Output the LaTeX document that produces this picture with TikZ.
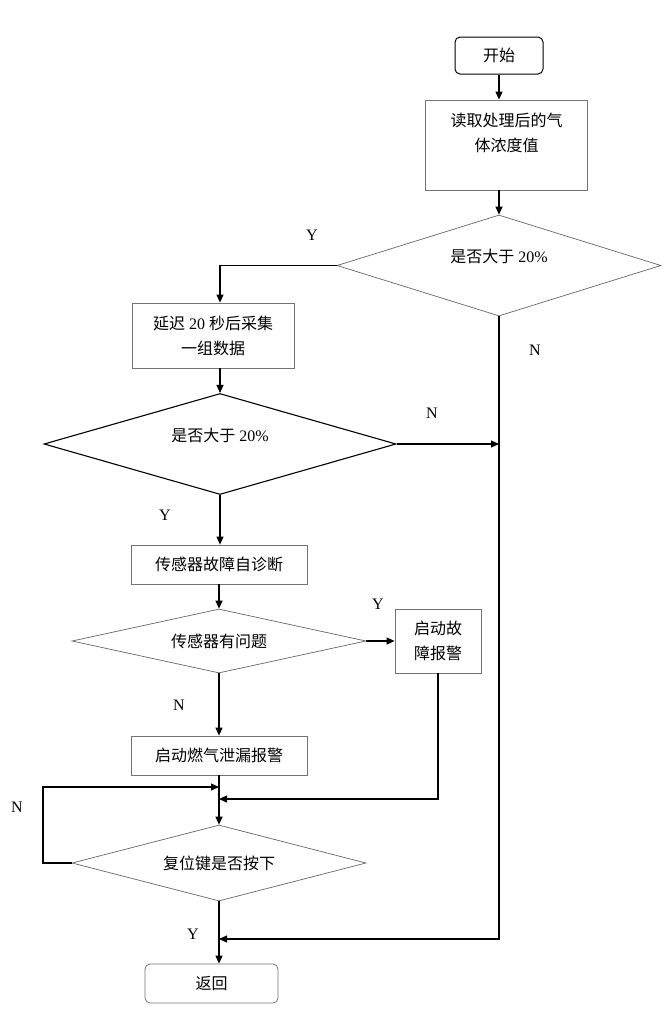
\documentclass[tikz,border=0pt]{standalone}
\usepackage{fontspec}
\setmainfont{Liberation Serif}
\newfontfamily\cjk{Noto Sans CJK SC}
\newcommand{\zh}[1]{{\cjk #1}}
\usetikzlibrary{arrows.meta, shapes.geometric, positioning}

\begin{document}
\begin{tikzpicture}[x=1pt, y=-1pt,
  font=\fontsize{16}{25}\selectfont,
  box/.style={draw=black!55, line width=0.8pt, rectangle, align=center, inner sep=0pt},
  term/.style={box, rounded corners=5pt},
  cond/.style={draw=black!60, line width=0.7pt, diamond, inner sep=0pt, aspect=3},
  arr/.style={-{Triangle[length=8pt,width=7pt]}, line width=1.1pt},
  line/.style={line width=1.1pt}]
  \useasboundingbox (0,0) rectangle (671,1013);

	\node[term, draw=black, line width=1pt, minimum width=88, minimum height=37] (start) at (499,55.5) {\zh{开始}};
	\node[box, minimum width=162, minimum height=90, text depth=26pt] (read) at (506.5,145) {\zh{读取处理后的气}\\\zh{体浓度值}};
	\node[cond, minimum width=324, minimum height=101, text height=12pt, text depth=18pt] (d1) at (499,265.5) {\zh{是否大于} 20\%};
	\node[box, minimum width=162, minimum height=65] (delay) at (213,335.5) {\zh{延迟} 20 \zh{秒后采集}\\\zh{一组数据}};
	\node[cond, draw=black, line width=1.1pt, minimum width=352, minimum height=101, text height=12pt, text depth=18pt] (d2) at (220,444) {\zh{是否大于} 20\%};
	\node[box, minimum width=176, minimum height=39] (diag) at (219,564.5) {\zh{传感器故障自诊断}};
	\node[cond, minimum width=294, minimum height=64] (d3) at (219,641) {\zh{传感器有问题}};
	\node[box, minimum width=86, minimum height=64] (fault) at (438,641) {\zh{启动故}\\\zh{障报警}};
	\node[box, minimum width=176, minimum height=39] (leak) at (219,755.5) {\zh{启动燃气泄漏报警}};
	\node[cond, minimum width=294, minimum height=76] (d4) at (219,863) {\zh{复位键是否按下}};
	\node[term, minimum width=133, minimum height=39] (ret) at (211.5,983.5) {\zh{返回}};

	\coordinate (rbot) at (499,939);
	\coordinate (join0) at (219,787);
	\coordinate (join1) at (219,799);
	\coordinate (loop) at (43,787);

	\draw[arr] (start) -- (start |- read.north);
	\draw[arr] (d1.north |- read.south) -- (d1);
	\draw[arr] (d1.west) -| (d2.north |- delay.north);
	\draw[arr] (d2.north |- delay.south) -- (d2);
	\draw[arr] (d2.east) -- (d2.east -| rbot);
	\draw[arr] (d2.south) -- (d2.south |- diag.north);
	\draw[arr] (diag) -- (d3);
	\draw[arr] (d3.east) -- (fault.west);
	\draw[arr] (d3) -- (leak);
	\draw[line] (leak) -- (join0);
	\draw[arr] (join0) -- (d4);
	\draw[arr] (fault.south) |- (join1);
	\draw[arr] (d4.west) -| (loop) -- (join0);
	\draw[arr] (d4.south) -- (d4.south |- ret.north);
	\draw[arr] (d1.south) -- (rbot) -- (rbot -| d4);

	% Y / N
	\node (y1) at (312,235) {Y};
	\node (n1) at (535,350) {N};
	\node (n2) at (432,413) {N};
	\node (y2) at (165,515) {Y};
	\node (y3) at (378,604) {Y};
	\node (n3) at (179,705) {N};
	\node (n4) at (17,807) {N};
	\node (y4) at (193,934) {Y};
\end{tikzpicture}
\end{document}
